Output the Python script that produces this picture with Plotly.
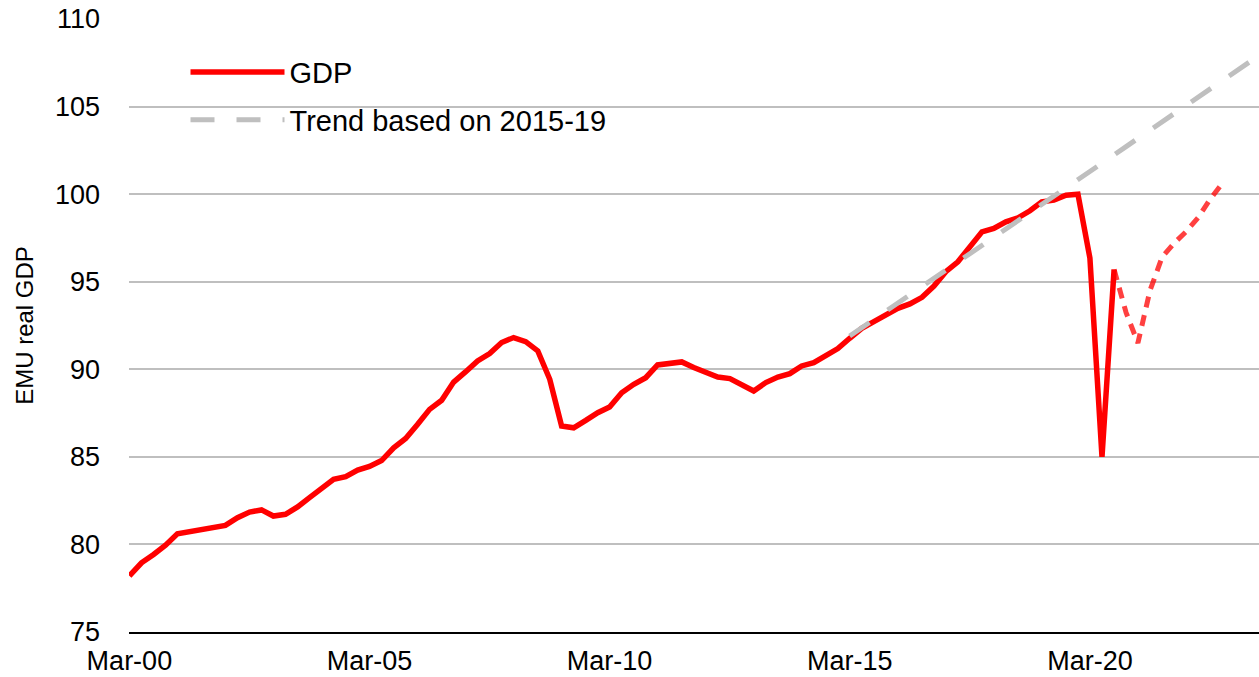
import plotly.graph_objects as go

# ---- data (quarterly, index 0 = Mar-2000) ----
start_year = 2000
gdp_values = [
    78.2, 78.95, 79.43, 79.96, 80.61, 80.73, 80.92, 81.0, 81.09, 81.53,
    81.85, 81.97, 81.62, 81.72, 82.14, 82.67, 83.15, 83.72, 83.87, 84.24,
    84.45, 84.79, 85.52, 86.05, 86.85, 87.71, 88.23, 89.27, 89.85, 90.48,
    90.9, 91.53, 91.81, 91.58, 91.05, 89.43, 86.76, 86.66, 87.08, 87.52,
    87.85, 88.66, 89.14, 89.52, 90.25, 90.36, 90.42, 90.1, 89.83, 89.56,
    89.47, 89.1, 88.76, 89.24, 89.56, 89.75, 90.19, 90.38, 90.76, 91.18,
    91.77, 92.34, 92.72, 93.1, 93.48, 93.73, 94.11, 94.75, 95.57, 96.14,
    97.0, 97.85, 98.04, 98.42, 98.65, 99.05, 99.56, 99.66, 99.94, 100.0,
    96.35, 85.0, 95.7,
]
forecast_start = 82  # quarter index where the forecast begins
forecast_values = [95.7, 93.24, 91.5, 94.5, 96.4, 97.2, 97.85, 98.65, 99.7, 100.6]
trend_start = 60     # Mar-15
trend_values = [
    91.90, 92.37, 92.84, 93.31, 93.78, 94.25, 94.72, 95.19, 95.66, 96.13,
    96.60, 97.07, 97.54, 98.01, 98.48, 98.95, 99.42, 99.89, 100.36, 100.83,
    101.30, 101.77, 102.24, 102.71, 103.18, 103.65, 104.12, 104.59, 105.06, 105.53,
    106.00, 106.47, 106.94, 107.41, 107.88, 108.35,
]
tick_dates = ["2000-03-01", "2005-03-01", "2010-03-01", "2015-03-01", "2020-03-01"]
y_ticks = [75, 80, 85, 90, 95, 100, 105, 110]


def qdate(i):
    y = start_year + i // 4
    m = 3 + 3 * (i % 4)
    return f"{y}-{m:02d}-01"


gdp_x = [qdate(i) for i in range(len(gdp_values))]
fc_x = [qdate(forecast_start + i) for i in range(len(forecast_values))]
tr_x = [qdate(trend_start + i) for i in range(len(trend_values))]

FONT = "Liberation Sans, Arial, sans-serif"

fig = go.Figure()
fig.add_trace(go.Scatter(
    x=gdp_x, y=gdp_values, mode="lines", name="GDP",
    line=dict(color="#FF0000", width=5.5), legendgroup="a",
))
fig.add_trace(go.Scatter(
    x=fc_x, y=forecast_values, mode="lines", name="GDP forecast",
    line=dict(color="rgba(255,0,0,0.75)", width=5, dash="11px,8px"),
    showlegend=False,
))
fig.add_trace(go.Scatter(
    x=tr_x, y=trend_values, mode="lines", name="Trend based on 2015-19",
    line=dict(color="#BFBFBF", width=5, dash="24px,22px"), legendgroup="b",
))

fig.update_layout(
    width=1259, height=677,
    margin=dict(l=129, r=0, t=19, b=45),
    paper_bgcolor="white", plot_bgcolor="white",
    font=dict(family=FONT, color="black", size=27),
    showlegend=True,
    legend=dict(
        x=0.05, y=0.955, xanchor="left", yanchor="top",
        bgcolor="rgba(0,0,0,0)", font=dict(size=29, family=FONT),
        itemwidth=94, traceorder="grouped", tracegroupgap=7,
    ),
    xaxis=dict(
        type="date", range=["2000-02-27", "2023-09-08"],
        tickvals=tick_dates, tickformat="%b-%y",
        showgrid=False, zeroline=False,
        showline=True, linecolor="black", linewidth=2,
        ticks="", tickfont=dict(size=27), ticklabelstandoff=4,
    ),
    yaxis=dict(
        range=[75, 110], tickvals=y_ticks,
        showgrid=True, gridcolor="#BFBFBF", gridwidth=1.5,
        zeroline=False, showline=False, ticks="",
        tickfont=dict(size=27), ticklabelstandoff=28,
        title=dict(text="EMU real GDP", font=dict(size=24), standoff=14),
    ),
)

fig.write_html(
    "out.html",
    config={"displayModeBar": False},
    post_script="document.body.style.margin='0';",
)
